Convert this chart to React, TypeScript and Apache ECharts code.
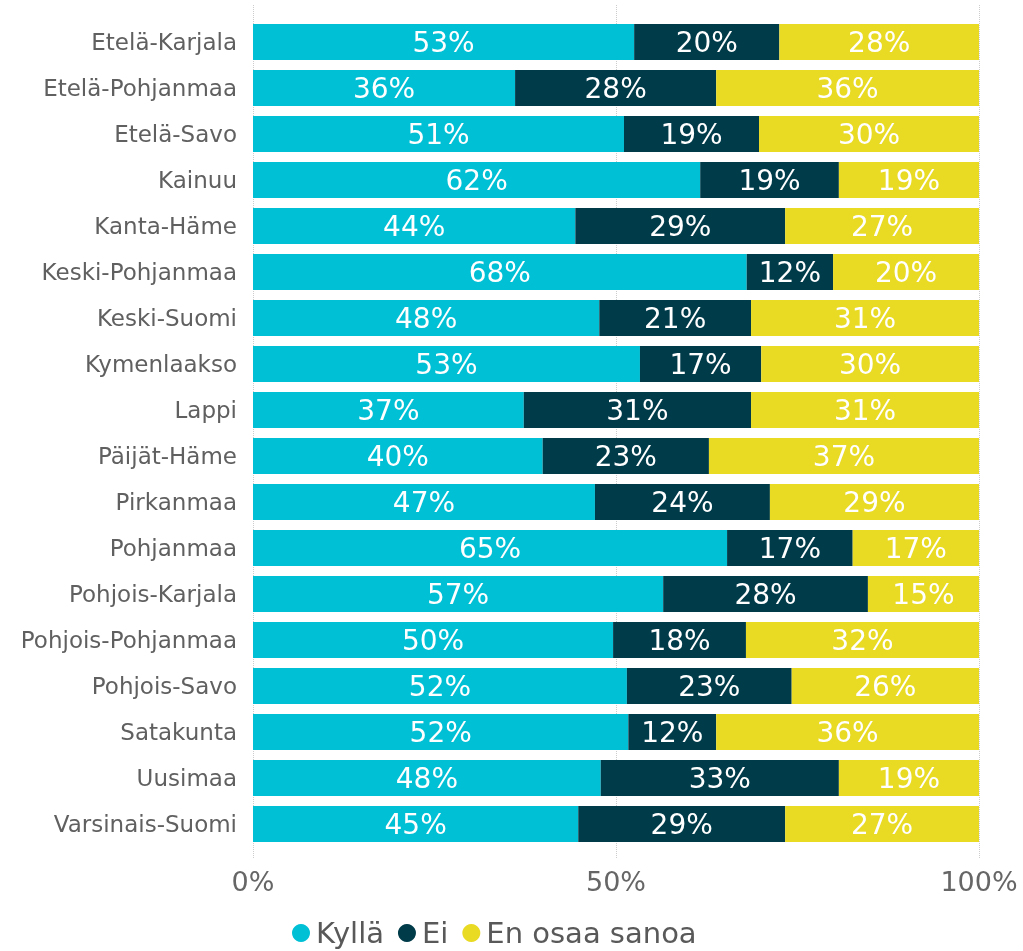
import React, { useEffect, useRef } from "react";
import * as echarts from "echarts";

const categories = [
  "Etelä-Karjala", "Etelä-Pohjanmaa", "Etelä-Savo", "Kainuu", "Kanta-Häme",
  "Keski-Pohjanmaa", "Keski-Suomi", "Kymenlaakso", "Lappi", "Päijät-Häme",
  "Pirkanmaa", "Pohjanmaa", "Pohjois-Karjala", "Pohjois-Pohjanmaa",
  "Pohjois-Savo", "Satakunta", "Uusimaa", "Varsinais-Suomi",
];
const kylla = [52.5, 36.1, 51.1, 61.6, 44.4, 68.0, 47.7, 53.3, 37.3, 39.9, 47.1, 65.3, 56.5, 49.6, 51.5, 51.7, 47.9, 44.8];
const ei = [20.0, 27.7, 18.6, 19.1, 28.9, 11.9, 20.9, 16.7, 31.3, 22.9, 24.1, 17.3, 28.2, 18.3, 22.7, 12.1, 32.8, 28.5];
const enOsaa = [27.5, 36.2, 30.3, 19.3, 26.7, 20.1, 31.4, 30.0, 31.4, 37.2, 28.8, 17.4, 15.3, 32.1, 25.8, 36.2, 19.3, 26.7];
const seriesNames = ["Kyllä", "Ei", "En osaa sanoa"];
const colors = ["#00C0D6", "#003B4A", "#E9DA24"];
const xTicks = [0, 50, 100];

const FONT = "DejaVu Sans";

export default function App() {
  const ref = useRef<HTMLDivElement>(null);
  useEffect(() => {
    if (!ref.current) return;
    const chart = echarts.init(ref.current, null, { renderer: "svg" });
    const data = [kylla, ei, enOsaa];
    chart.setOption({
      animation: false,
      textStyle: { fontFamily: FONT },
      color: colors,
      legend: {
        left: 292,
        top: 917,
        padding: 0,
        icon: "circle",
        itemWidth: 18,
        itemHeight: 18,
        itemGap: 14,
        textStyle: { fontSize: 29, lineHeight: 32, color: "#595959", fontFamily: FONT, padding: [0, 0, 0, 1] },
        data: seriesNames,
      },
      grid: [
        { left: 253, right: 44, top: 19, bottom: 104 },
        { left: 253, right: 44, top: 5, bottom: 93 },
      ],
      xAxis: [
        {
          type: "value",
          min: 0,
          max: 100,
          interval: 50,
          gridIndex: 0,
          axisLine: { show: false },
          axisTick: { show: false },
          splitLine: { show: false },
          axisLabel: {
            formatter: (v: number) => (xTicks.includes(v) ? v + "%" : ""),
            fontSize: 27,
            color: "#666666",
            margin: 21,
            fontFamily: FONT,
          },
        },
        {
          type: "value",
          min: 0,
          max: 100,
          interval: 50,
          gridIndex: 1,
          axisLine: { show: false },
          axisTick: { show: false },
          axisLabel: { show: false },
          splitLine: { show: true, lineStyle: { type: "dotted", color: "#cccccc", width: 1 } },
        },
      ],
      yAxis: [
        {
          type: "category",
          data: categories,
          inverse: true,
          gridIndex: 0,
          axisLine: { show: false },
          axisTick: { show: false },
          axisLabel: { fontSize: 23, color: "#606060", margin: 16, fontFamily: FONT },
        },
        {
          type: "value",
          gridIndex: 1,
          show: false,
        },
      ],
      series: seriesNames.map((name, i) => ({
        name,
        type: "bar",
        stack: "total",
        xAxisIndex: 0,
        yAxisIndex: 0,
        barCategoryGap: "21.7%",
        data: data[i],
        itemStyle: { color: colors[i] },
        label: {
          show: true,
          position: "inside",
          color: "#ffffff",
          fontSize: 28,
          fontFamily: FONT,
          formatter: (p: any) => Math.round(p.value) + "%",
        },
        z: 3,
      })),
    });
    return () => chart.dispose();
  }, []);
  return (
    <div
      ref={ref}
      style={{ position: "fixed", left: 0, top: 0, width: 1023, height: 951 }}
    />
  );
}
